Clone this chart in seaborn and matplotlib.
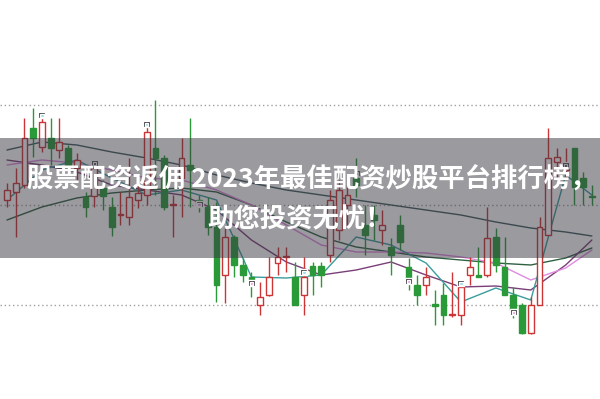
import numpy as np
import pandas as pd
import matplotlib
matplotlib.use("Agg")
import matplotlib.pyplot as plt
import seaborn as sns

# ---- candle data (price units; higher = up) ----
# open, close, high, low for each session
opens  = [200, 208, 215, 272, 253, 262, 250, 252, 232, 203, 204, 212, 193, 185, 183, 200, 205, 252, 242, 195, 222, 235, 200, 193, 173, 125, 163, 135, 123, 95, 105, 137, 143, 123, 105, 134, 134, 145, 170, 195, 222, 175, 185, 170, 153, 175, 133, 115, 115, 96, 105, 85, 85, 125, 125, 125, 163, 133, 105, 95, 67, 95, 165, 238, 230, 252, 222, 204]
closes = [210, 217, 262, 262, 278, 252, 258, 233, 240, 193, 232, 204, 173, 185, 203, 207, 268, 242, 193, 195, 242, 230, 194, 173, 115, 163, 135, 125, 117, 103, 123, 143, 143, 95, 123, 125, 125, 200, 210, 205, 215, 165, 180, 175, 145, 158, 120, 105, 123, 94, 85, 86, 113, 133, 123, 162, 135, 105, 90, 67, 95, 173, 242, 243, 232, 213, 213, 203]
highs  = [217, 232, 282, 292, 285, 282, 282, 255, 247, 208, 235, 220, 203, 208, 242, 215, 275, 300, 245, 205, 262, 282, 205, 203, 198, 172, 165, 142, 128, 118, 143, 153, 153, 138, 143, 138, 138, 210, 220, 215, 242, 195, 195, 190, 162, 185, 142, 125, 133, 110, 117, 128, 118, 143, 153, 193, 172, 163, 113, 97, 103, 183, 272, 252, 252, 252, 228, 215]
lows   = [193, 163, 212, 243, 248, 235, 242, 228, 220, 183, 193, 190, 164, 175, 175, 192, 195, 205, 190, 163, 183, 193, 188, 165, 98, 97, 123, 118, 103, 85, 104, 125, 128, 95, 85, 105, 113, 138, 160, 175, 203, 145, 160, 155, 125, 150, 110, 95, 105, 75, 75, 83, 75, 115, 123, 123, 128, 105, 82, 66, 66, 95, 165, 222, 222, 195, 195, 195]
# sessions carrying a black signal marker, its level and inner colour
marker_idx   = [4, 10, 16, 22, 28, 34, 40, 46, 52, 58, 64]
marker_level = [282, 234, 273, 193, 114, 125, 224, 116, 114, 85, 232]
marker_inner = ["#8fd8e0", "#111111", "#8fd8e0", "#e88ae8", "#e88ae8", "#8fd8e0",
                "#111111", "#e88ae8", "#8fd8e0", "#e88ae8", "#111111"]

# ---- moving averages, read every 4th session ----
ma_idx = [0, 4, 8, 12, 16, 20, 24, 28, 32, 36, 40, 44, 48, 52, 56, 60, 64, 67]
ma_long  = [250, 258, 255, 248, 242, 235, 225, 217, 210, 205, 200, 195, 190, 185, 178, 172, 168, 164]
ma_mid   = [180, 193, 202, 207, 210, 212, 208, 195, 178, 163, 153, 148, 143, 140, 137, 135, 142, 152]
ma_purp  = [240, 235, 228, 215, 210, 205, 190, 160, 138, 125, 130, 138, 125, 113, 114, 110, 135, 160]
ma_pink  = [235, 240, 237, 230, 222, 220, 210, 195, 175, 155, 148, 148, 147, 143, 137, 120, 132, 150]
ma_fast  = [200, 230, 240, 222, 205, 210, 200, 123, 122, 125, 163, 155, 137, 98, 112, 100, 225, 205]

sns.set_theme(style="white")
fig = plt.figure(figsize=(6.0, 3.99), dpi=100)
ax = fig.add_axes([0, 0, 1, 1])
ax.set_xlim(-0.8, 67.93)
ax.set_ylim(1, 400)
ax.axis("off")

# dotted grid lines
for lvl in [295, 195, 95]:
    ax.axhline(lvl, color="#a0a0a0", lw=1.0, ls=(0, (1, 2)), zorder=1)

# moving average lines via seaborn
ma_df = pd.concat([
    pd.DataFrame({"i": ma_idx, "v": ma_long, "ma": "long"}),
    pd.DataFrame({"i": ma_idx, "v": ma_mid, "ma": "mid"}),
    pd.DataFrame({"i": ma_idx, "v": ma_purp, "ma": "purp"}),
    pd.DataFrame({"i": ma_idx, "v": ma_pink, "ma": "pink"}),
    pd.DataFrame({"i": ma_idx, "v": ma_fast, "ma": "fast"}),
])
pal = {"long": "#3f5d60", "mid": "#2f6040", "purp": "#7a3f78", "pink": "#e08ae0", "fast": "#3a9c9c"}
sns.lineplot(data=ma_df, x="i", y="v", hue="ma", palette=pal, linewidth=1.0,
             legend=False, ax=ax, zorder=2)

# candles
n = len(opens)
x = np.arange(n)
o = np.array(opens); c = np.array(closes); h = np.array(highs); l = np.array(lows)
up = c >= o
red = "#cc3535"
green = "#2a9a38"
ax.vlines(x[up], l[up], h[up], color=red, lw=1.0, zorder=3)
ax.vlines(x[~up], l[~up], h[~up], color=green, lw=1.0, zorder=3)
body_lo = np.minimum(o, c)
body_h = np.maximum(np.abs(c - o), 1.0)
ax.bar(x[up], body_h[up], bottom=body_lo[up], width=0.66, facecolor="white",
       edgecolor=red, linewidth=1.0, zorder=4)
ax.bar(x[~up], body_h[~up], bottom=body_lo[~up], width=0.66, facecolor=green,
       edgecolor=green, linewidth=1.0, zorder=4)
ax.bar(marker_idx, [6] * len(marker_idx), bottom=marker_level, width=0.8,
       color="#111111", zorder=4.5)
ax.bar(marker_idx, [2.5] * len(marker_idx), bottom=np.array(marker_level) + 1.5,
       width=0.4, color=marker_inner, zorder=4.6)

# grey banner
ax.axhspan(142, 262, color="#383640", alpha=0.5, lw=0, zorder=5)

font = ["Noto Sans CJK SC", "DejaVu Sans"]
fig.text(0.045, 0.548, "股票配资返佣 2023年最佳配资炒股平台排行榜，", color="white",
         fontsize=19, fontweight="bold", family=font, ha="left", va="center", zorder=6)
fig.text(0.5, 0.448, "助您投资无忧！", color="white",
         fontsize=19, fontweight="bold", family=font, ha="center", va="center", zorder=6)

fig.savefig("out.png", dpi=100)
